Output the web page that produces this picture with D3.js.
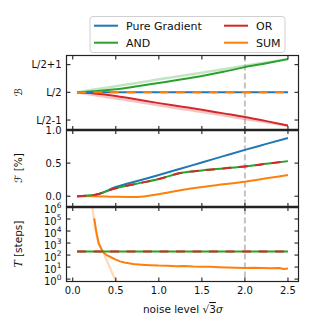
<!DOCTYPE html>
<html>
<head>
  <script src="https://d3js.org/d3.v7.min.js"></script>
  <style>
    body { margin: 0; background: white; }
    svg { display: block; font-family: "DejaVu Sans", sans-serif; }
  </style>
</head>
<body>
<svg id="chart" width="325" height="327"></svg>
<script>
    // noise levels used for the smooth curves
    var noise = [0.05, 0.25, 0.5, 0.75, 1.0, 1.25, 1.5, 1.75, 2.0, 2.25, 2.5];

    // panel 1: bias around L/2
    var pureB = [0, 0, 0, 0, 0, 0, 0, 0, 0, 0, 0];
    var sumB  = [0, 0, 0, 0, 0, 0, 0, 0, 0, 0, 0];
    var andB  = [0, 0.036, 0.11, 0.22, 0.34, 0.46, 0.59, 0.74, 0.91, 1.05, 1.2];
    var orB   = [0, -0.04, -0.13, -0.26, -0.39, -0.51, -0.63, -0.76, -0.89, -1.04, -1.2];
    var andBTheory = [0, 0.1, 0.22, 0.34, 0.47, 0.59, 0.71, 0.83, 0.96, 1.08, 1.2];
    var orBTheory  = [0, -0.1, -0.22, -0.34, -0.47, -0.59, -0.71, -0.83, -0.96, -1.08, -1.2];

    // panel 2: F [%]
    var pureF = [0, 0.015, 0.138, 0.23, 0.32, 0.415, 0.51, 0.605, 0.70, 0.79, 0.88];
    var andF  = [0, 0.02, 0.12, 0.19, 0.26, 0.35, 0.39, 0.42, 0.45, 0.49, 0.53];
    var sumF  = [0, 0, -0.01, -0.012, 0.03, 0.09, 0.14, 0.18, 0.22, 0.27, 0.32];

    // panel 3: T [steps]
    var andT = [200, 200, 200, 200, 200, 200, 200, 200, 200, 200, 200];
    var sumTNoise = [0.25, 0.27, 0.3, 0.33, 0.36, 0.4, 0.45, 0.5, 0.55, 0.6, 0.7, 0.8, 0.9, 1.0,
                     1.1, 1.2, 1.3, 1.4, 1.5, 1.6, 1.7, 1.8, 1.9, 2.0, 2.1, 2.2, 2.3, 2.4, 2.45, 2.5];
    var sumT = [112000, 12600, 1000, 355, 158, 93, 63, 42, 30, 24, 18, 16, 14.5, 13.5,
                13.2, 12, 12.3, 11, 10.7, 10.5, 9.8, 9.3, 8.9, 8.3, 8.7, 8.3, 7.9, 8.5, 6.9, 7.6];
    var sumTTheoryNoise = [0.225, 0.245, 0.284, 0.354, 0.42, 0.48, 0.52];
    var sumTTheory = [1400000, 107000, 2340, 178, 13.8, 1.5, 0.4];

    var xTicks = [0, 0.5, 1.0, 1.5, 2.0, 2.5];
    var bTicks = [1, 0, -1];
    var bTickLabels = ["L/2+1", "L/2", "L/2-1"];
    var fTicks = [0, 0.5, 1.0];
    var tTicks = [0, 1, 2, 3, 4, 5, 6];

    var C = { blue: "#1f77b4", orange: "#ff7f0e", green: "#2ca02c", red: "#d62728" };

    var svg = d3.select("#chart");
    var left = 66.5, right = 298.5;
    var x = d3.scaleLinear().domain([-0.0725, 2.6225]).range([left, right]);

    var y1 = d3.scaleLinear().domain([-1.36, 1.33]).range([130, 55.5]);
    var y2 = d3.scaleLinear().domain([-0.163, 1.0]).range([207, 130]);
    var y3 = d3.scaleLog().domain([Math.pow(10, -0.2), 1e6]).range([281.5, 207]);

    var panels = [
        { id: "p1", y: y1, top: 55.5, bottom: 130 },
        { id: "p2", y: y2, top: 130, bottom: 207 },
        { id: "p3", y: y3, top: 207, bottom: 281.5 }
    ];

    var defs = svg.append("defs");
    panels.forEach(function(p) {
        defs.append("clipPath").attr("id", "clip-" + p.id)
            .append("rect").attr("x", left).attr("y", p.top)
            .attr("width", right - left).attr("height", p.bottom - p.top);
    });

    // dashed reference line at noise 2.0
    svg.append("line")
        .attr("x1", x(2.0)).attr("x2", x(2.0))
        .attr("y1", 55.5).attr("y2", 281.5)
        .attr("stroke", "#c4c4c4").attr("stroke-width", 2)
        .attr("stroke-dasharray", "6,3");

    function pairs(xs, ys) { return xs.map(function(v, i) { return [v, ys[i]]; }); }

    function drawLine(p, xs, ys, color, opts) {
        opts = opts || {};
        var line = d3.line()
            .x(function(d) { return x(d[0]); })
            .y(function(d) { return p.y(d[1]); })
            .curve(opts.linear ? d3.curveLinear : d3.curveMonotoneX);
        svg.append("g").attr("clip-path", "url(#clip-" + p.id + ")")
            .append("path")
            .datum(pairs(xs, ys))
            .attr("d", line)
            .attr("fill", "none")
            .attr("stroke", color)
            .attr("stroke-width", opts.width || 2)
            .attr("stroke-opacity", opts.alpha || 1)
            .attr("stroke-dasharray", opts.dash || null)
            .attr("stroke-linejoin", "round");
    }

    var P1 = panels[0], P2 = panels[1], P3 = panels[2];

    // panel 1
    drawLine(P1, noise, andBTheory, C.green, { alpha: 0.28, width: 2.5 });
    drawLine(P1, noise, orBTheory, C.red, { alpha: 0.28, width: 2.5 });
    drawLine(P1, noise, andB, C.green);
    drawLine(P1, noise, orB, C.red);
    drawLine(P1, noise, pureB, C.blue);
    drawLine(P1, noise, sumB, C.orange, { dash: "9,7.5" });

    // panel 2
    drawLine(P2, noise, pureF, C.blue);
    drawLine(P2, noise, sumF, C.orange);
    drawLine(P2, noise, andF, C.green);
    drawLine(P2, noise, andF, C.red, { dash: "9,7.5" });

    // panel 3
    drawLine(P3, sumTTheoryNoise, sumTTheory, C.orange, { alpha: 0.3, width: 2.2 });
    drawLine(P3, sumTNoise, sumT, C.orange, { linear: true });
    drawLine(P3, noise, andT, C.green);
    drawLine(P3, noise, andT, C.red, { dash: "9,7.5" });

    // frames and ticks
    var spine = "#222";
    panels.forEach(function(p) {
        svg.append("rect").attr("x", left).attr("y", p.top)
            .attr("width", right - left).attr("height", p.bottom - p.top)
            .attr("fill", "none").attr("stroke", spine).attr("stroke-width", 1.2);
        xTicks.forEach(function(t) {
            svg.append("line").attr("x1", x(t)).attr("x2", x(t))
                .attr("y1", p.top).attr("y2", p.top + 4)
                .attr("stroke", spine).attr("stroke-width", 1.1);
            svg.append("line").attr("x1", x(t)).attr("x2", x(t))
                .attr("y1", p.bottom).attr("y2", p.bottom - 4)
                .attr("stroke", spine).attr("stroke-width", 1.1);
        });
    });
    [130, 207].forEach(function(yy) {
        svg.append("line").attr("x1", left - 0.5).attr("x2", right + 0.5)
            .attr("y1", yy).attr("y2", yy)
            .attr("stroke", spine).attr("stroke-width", 2.6);
    });

    function yTick(yy, label) {
        svg.append("line").attr("x1", left).attr("x2", left + 4).attr("y1", yy).attr("y2", yy)
            .attr("stroke", spine).attr("stroke-width", 1.1);
        svg.append("line").attr("x1", right).attr("x2", right - 4).attr("y1", yy).attr("y2", yy)
            .attr("stroke", spine).attr("stroke-width", 1.1);
        return svg.append("text").attr("x", left - 5).attr("y", yy).attr("dy", "0.35em")
            .attr("text-anchor", "end").attr("font-size", 10).attr("fill", "#111")
            .text(label);
    }

    bTicks.forEach(function(t, i) { yTick(y1(t), bTickLabels[i]); });
    fTicks.forEach(function(t) { yTick(y2(t), d3.format(".1f")(t)); });
    tTicks.forEach(function(t) {
        var txt = yTick(y3(Math.pow(10, t)), "10");
        txt.attr("dy", "0.55em");
        txt.append("tspan").attr("dy", -5).attr("font-size", 7.5).text(t);
    });

    // x tick labels
    xTicks.forEach(function(t) {
        svg.append("text").attr("x", x(t)).attr("y", 293.5)
            .attr("text-anchor", "middle").attr("font-size", 10).attr("fill", "#111")
            .text(d3.format(".1f")(t));
    });

    // axis labels
    var xl = svg.append("text").attr("x", 183).attr("y", 313)
        .attr("text-anchor", "middle").attr("font-size", 10.5).attr("fill", "#111");
    xl.append("tspan").text("noise level \u221A");
    xl.append("tspan").attr("text-decoration", "overline").text("3");
    xl.append("tspan").attr("font-style", "italic").attr("font-family", "DejaVu Serif").text("\u03C3");

    function yLabel(yc, parts) {
        var t = svg.append("text")
            .attr("transform", "translate(22," + yc + ") rotate(-90)")
            .attr("text-anchor", "middle").attr("font-size", 10.5).attr("fill", "#111");
        parts.forEach(function(pt) {
            var s = t.append("tspan").text(pt.text);
            if (pt.italic) s.attr("font-style", "italic").attr("font-family", "DejaVu Serif");
        });
    }
    yLabel(92, [{ text: "\u212C" }]);
    yLabel(168, [{ text: "\u2131" }, { text: " [%]" }]);
    yLabel(244, [{ text: "T", italic: true }, { text: " [steps]" }]);

    // legend
    var lg = svg.append("g");
    lg.append("rect").attr("x", 90).attr("y", 16.5).attr("width", 195).attr("height", 36)
        .attr("rx", 3).attr("fill", "white").attr("fill-opacity", 0.85)
        .attr("stroke", "#d0d0d0").attr("stroke-width", 1);
    var legendItems = [
        { name: "Pure Gradient", color: C.blue, col: 0, row: 0 },
        { name: "AND", color: C.green, col: 0, row: 1 },
        { name: "OR", color: C.red, col: 1, row: 0 },
        { name: "SUM", color: C.orange, col: 1, row: 1 }
    ];
    legendItems.forEach(function(d) {
        var lx = d.col === 0 ? 94 : 224;
        var ly = d.row === 0 ? 25.7 : 42.7;
        lg.append("line").attr("x1", lx).attr("x2", lx + 24).attr("y1", ly).attr("y2", ly)
            .attr("stroke", d.color).attr("stroke-width", 2);
        lg.append("text").attr("x", lx + 32).attr("y", ly).attr("dy", "0.36em")
            .attr("font-size", 11).attr("fill", "#111").text(d.name);
    });
</script>
</body>
</html>
